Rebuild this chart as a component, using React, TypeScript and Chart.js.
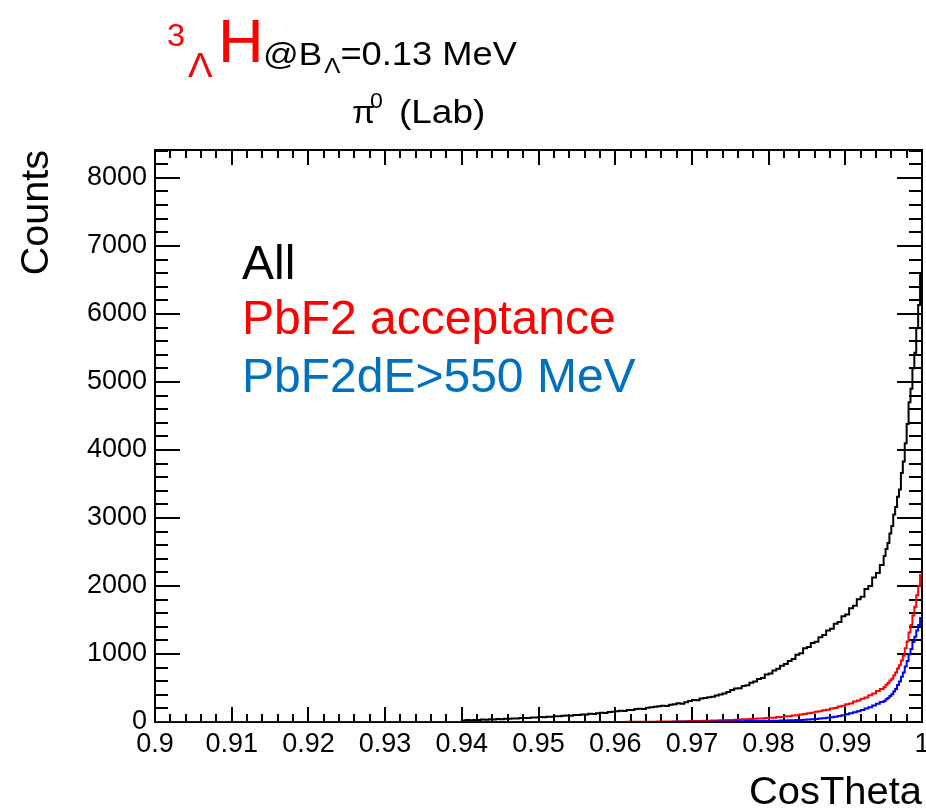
import React, { useEffect, useRef } from "react";
import { Chart, registerables } from "chart.js";

Chart.register(...registerables);

// ---- data ----
const BIN_WIDTH = 0.0005; // main bins, 0.94 .. 0.995
const TAIL_BIN_WIDTH = 0.00025; // finer bins, 0.995 .. 1.0
const TAIL_START = 0.995;
const X_MIN = 0.9;
const X_MAX = 1.0;
const Y_MAX = 8410;

const xTickValues = [0.9, 0.91, 0.92, 0.93, 0.94, 0.95, 0.96, 0.97, 0.98, 0.99, 1.0];
const yTickValues = [0, 1000, 2000, 3000, 4000, 5000, 6000, 7000, 8000];

// "All"
const allStart = 0.94;
const allCounts = [
  22, 28, 25, 31, 30, 36, 33, 40, 38, 44,
  42, 48, 46, 53, 51, 57, 60, 58, 66, 68,
  72, 70, 79, 77, 86, 84, 92, 96, 93, 104,
  102, 112, 110, 121, 118, 130, 136, 133, 148, 152,
  158, 165, 162, 178, 176, 190, 195, 192, 210, 218,
  225, 232, 240, 236, 255, 262, 275, 270, 292, 310,
  325, 318, 345, 352, 365, 372, 390, 405, 418, 440,
  470, 492, 498, 528, 540, 578, 596, 632, 648, 698,
  712, 758, 782, 826, 852, 898, 928, 990, 1012, 1085,
  1102, 1162, 1180, 1245, 1280, 1345, 1370, 1445, 1470, 1555,
  1580, 1672, 1710, 1805, 1840, 1955, 2000, 2125, 2190, 2310,
];
const allTail = [
  2440, 2545, 2630, 2770, 2880, 3050, 3160, 3310, 3420, 3660,
  3830, 4100, 4380, 4700, 4900, 5200, 5430, 5790, 6130, 6580,
];

// "PbF2 acceptance"
const accStart = 0.96;
const accCounts = [
  0, 1, 1, 2, 2, 3, 3, 4, 4, 5,
  5, 6, 7, 7, 8, 9, 10, 11, 12, 13,
  14, 16, 16, 19, 19, 22, 22, 26, 26, 30,
  30, 34, 35, 39, 40, 45, 46, 51, 52, 58,
  62, 64, 72, 74, 84, 86, 97, 100, 112, 118,
  130, 136, 150, 158, 173, 180, 198, 207, 228, 240,
  260, 273, 300, 316, 343, 362, 395, 418, 455, 487,
];
const accTail = [
  515, 548, 572, 610, 636, 684, 726, 785, 835, 905,
  975, 1085, 1185, 1315, 1425, 1565, 1695, 1865, 2005, 2160,
];

// "PbF2dE>550 MeV"
const dEStart = 0.965;
const dECounts = [
  0, 0, 1, 1, 1, 2, 2, 2, 3, 3,
  3, 4, 4, 5, 5, 6, 6, 7, 8, 8,
  9, 10, 11, 12, 13, 14, 14, 15, 15, 16,
  15, 18, 18, 21, 22, 25, 26, 29, 30, 34,
  36, 41, 45, 51, 56, 63, 70, 79, 88, 99,
  115, 129, 142, 159, 176, 197, 218, 243, 268, 293,
];
const dETail = [
  310, 333, 352, 384, 408, 449, 487, 545, 597, 665,
  726, 815, 896, 995, 1075, 1175, 1255, 1345, 1425, 1530,
];

function toPoints(start: number, counts: number[], tail: number[]) {
  const pts: { x: number; y: number }[] = [{ x: X_MIN, y: 0 }];
  counts.forEach((c, i) => pts.push({ x: start + i * BIN_WIDTH, y: c }));
  tail.forEach((c, i) => pts.push({ x: TAIL_START + i * TAIL_BIN_WIDTH, y: c }));
  pts.push({ x: X_MAX, y: tail[tail.length - 1] });
  return pts;
}

const FONT = '"Liberation Sans", Arial, Helvetica, sans-serif';

const framePlugin = {
  id: "rootFrame",
  beforeDatasetsDraw(chart: any) {
    const { ctx, chartArea, scales } = chart;
    const { left, right, top, bottom } = chartArea;
    const x = scales.x;
    const y = scales.y;
    ctx.save();
    ctx.strokeStyle = "#000";
    ctx.lineWidth = 2;
    const line = (x1: number, y1: number, x2: number, y2: number) => {
      ctx.beginPath();
      ctx.moveTo(x1, y1);
      ctx.lineTo(x2, y2);
      ctx.stroke();
    };
    const xMinor = 0.002;
    for (let k = 0; k <= 50; k++) {
      const v = X_MIN + k * xMinor;
      const px = Math.round(x.getPixelForValue(v));
      const len = k % 5 === 0 ? 15 : 8;
      line(px, bottom, px, bottom - len);
      line(px, top, px, top + len);
    }
    const yMinor = 200;
    for (let k = 0; k * yMinor <= Y_MAX; k++) {
      const py = Math.round(y.getPixelForValue(k * yMinor));
      const len = k % 5 === 0 ? 25 : 13;
      line(left, py, left + len, py);
      line(right, py, right - len, py);
    }
    ctx.strokeRect(left, top, right - left, bottom - top);
    ctx.restore();
  },
};

function drawText(
  ctx: CanvasRenderingContext2D,
  text: string,
  x: number,
  y: number,
  size: number,
  color: string,
  stretch = 1,
  align: CanvasTextAlign = "left"
) {
  ctx.save();
  ctx.font = `${size}px ${FONT}`;
  ctx.fillStyle = color;
  ctx.textAlign = align;
  ctx.textBaseline = "alphabetic";
  ctx.translate(x, y);
  ctx.scale(stretch, 1);
  ctx.fillText(text, 0, 0);
  const w = ctx.measureText(text).width * stretch;
  ctx.restore();
  return w;
}

const textPlugin = {
  id: "rootTexts",
  afterDraw(chart: any) {
    const { ctx, chartArea } = chart;

    // Title: ^3_Λ H @B_Λ=0.13 MeV
    drawText(ctx, "3", 167, 46, 31, "#ff0000", 1.05);
    drawText(ctx, "Λ", 188, 77, 35, "#ff0000", 1.05);
    drawText(ctx, "H", 218, 62, 62, "#ff0000", 1.02);
    let cx = 263;
    cx += drawText(ctx, "@B", cx, 65, 32, "#000", 1.1);
    cx += 2;
    cx += drawText(ctx, "Λ", cx, 73, 22, "#000", 1.1);
    drawText(ctx, "=0.13 MeV", cx, 65, 33, "#000", 1.1);

    // subtitle π0 (Lab)
    drawText(ctx, "π", 352, 123, 32, "#000", 1.05);
    drawText(ctx, "0", 370, 108, 22, "#000", 1.05);
    drawText(ctx, "(Lab)", 399, 123, 33, "#000", 1.12);

    // legend texts
    drawText(ctx, "All", 242, 279, 48, "#000");
    drawText(ctx, "PbF2 acceptance", 242, 334, 48, "#ff0000");
    drawText(ctx, "PbF2dE>550 MeV", 242, 392, 48, "#0070c0");

    // axis titles
    drawText(ctx, "CosTheta", chartArea.right, 804, 38, "#000", 1.05, "right");
    ctx.save();
    ctx.translate(48, chartArea.top);
    ctx.rotate(-Math.PI / 2);
    drawText(ctx, "Counts", 0, 0, 38, "#000", 1.04, "right");
    ctx.restore();
  },
};

export default function App() {
  const ref = useRef<HTMLCanvasElement | null>(null);
  useEffect(() => {
    document.body.style.margin = "0";
    const canvas = ref.current;
    if (!canvas) return;
    const chart = new Chart(canvas, {
      type: "line",
      data: {
        datasets: [
          {
            label: "PbF2dE>550 MeV",
            data: toPoints(dEStart, dECounts, dETail),
            borderColor: "#0000ff",
            borderWidth: 2,
            pointRadius: 0,
            stepped: true,
            fill: false,
          },
          {
            label: "PbF2 acceptance",
            data: toPoints(accStart, accCounts, accTail),
            borderColor: "#ff0000",
            borderWidth: 2,
            pointRadius: 0,
            stepped: true,
            fill: false,
          },
          {
            label: "All",
            data: toPoints(allStart, allCounts, allTail),
            borderColor: "#000000",
            borderWidth: 2,
            pointRadius: 0,
            stepped: true,
            fill: false,
          },
        ],
      },
      options: {
        animation: false,
        responsive: false,
        devicePixelRatio: 1,
        layout: { padding: { top: 150, right: 4, left: 0, bottom: 0 } },
        plugins: {
          legend: { display: false },
          tooltip: { enabled: false },
          title: { display: false },
        },
        scales: {
          x: {
            type: "linear",
            min: X_MIN,
            max: X_MAX,
            grid: { display: false, drawTicks: false },
            border: { display: false },
            afterBuildTicks: (s: any) => {
              s.ticks = xTickValues.map((v) => ({ value: v }));
            },
            afterFit: (s: any) => {
              s.height = 87;
              s.paddingLeft = 0;
              s.paddingRight = 0;
            },
            ticks: {
              color: "#000",
              padding: 6,
              maxRotation: 0,
              autoSkip: false,
              font: { family: FONT, size: 27 },
              callback: (v: any) => String(+Number(v).toFixed(2)),
            },
          },
          y: {
            type: "linear",
            min: 0,
            max: Y_MAX,
            grid: { display: false, drawTicks: false },
            border: { display: false },
            afterBuildTicks: (s: any) => {
              s.ticks = yTickValues.map((v) => ({ value: v }));
            },
            afterFit: (s: any) => {
              s.width = 155;
              s.paddingTop = 0;
              s.paddingBottom = 0;
            },
            ticks: {
              color: "#000",
              padding: 8,
              autoSkip: false,
              font: { family: FONT, size: 27 },
              callback: (v: any) => String(v),
            },
          },
        },
      },
      plugins: [framePlugin, textPlugin],
    });
    return () => chart.destroy();
  }, []);
  return (
    <div style={{ position: "absolute", left: 0, top: 0, width: 926, height: 809, background: "#fff" }}>
      <canvas ref={ref} width={926} height={809} style={{ width: 926, height: 809, display: "block" }} />
    </div>
  );
}
